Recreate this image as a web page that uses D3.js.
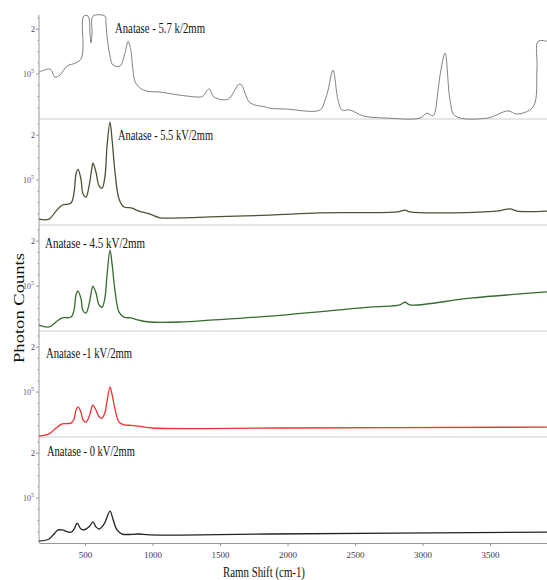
<!DOCTYPE html>
<html>
<head>
<meta charset="utf-8">
<style>
body { margin: 0; background: #fff; }
svg { display: block; }
.lbl { font-family: "Liberation Serif", "DejaVu Serif", serif; fill: #111; }
.tick-y { font-family: "Liberation Serif", serif; font-size: 8px; fill: #445; }
.xaxis text { font-family: "Liberation Serif", serif; font-size: 9px; fill: #435; }
.xaxis path, .xaxis line { stroke: #999; }
</style>
</head>
<body>
<svg width="547" height="580"></svg>
<script src="https://cdn.jsdelivr.net/npm/d3@7"></script>
<script>
// raman spectra, x = shift (cm-1), y = counts in thousands
var xTicks = [500, 1000, 1500, 2000, 2500, 3000, 3500];
var panelLabels = ["Anatase - 5.7 k/2mm", "Anatase - 5.5 kV/2mm", "Anatase - 4.5  kV/2mm",
                   "Anatase -1 kV/2mm", "Anatase - 0 kV/2mm"];

var spec57 = [[159,104],[241,111],[278,93],[315,98],[367,118],[426,124],[463,131],[478,140],
  [485,160],[490,229],[522,229],[537,190],[544,169],[552,190],[559,229],[648,229],[655,215],
  [663,184],[685,140],[707,120],[759,118],[796,147],[819,173],[834,160],[841,150],[856,107],
  [870,84],[907,69],[959,62],[1056,60],[1204,53],[1352,49],[1374,51],[1419,67],
  [1456,49],[1559,44],[1648,78],[1722,36],[1833,27],[1870,24],[1996,22],[2241,20],[2278,42],
  [2300,64],[2337,109],[2374,42],[2404,20],[2463,20],[2559,7],[2737,2],[2981,2],[3033,13],
  [3078,7],[3115,64],[3130,98],[3167,147],[3204,42],[3241,7],[3478,2],[3633,18],[3700,11],
  [3819,27],[3848,113],[3856,173],[3922,173]];
var spec55 = [[159,13],[233,13],[285,31],[330,44],[396,49],[419,73],[433,113],[448,124],
  [470,102],[485,69],[507,62],[530,87],[552,129],[559,138],[581,118],[604,87],[626,82],
  [648,109],[663,176],[685,229],[700,191],[722,118],[752,58],[789,40],[841,38],[900,31],
  [981,24],[1056,16],[1204,16],[1426,18],[1870,22],[2241,27],[2811,29],[2870,33],[2907,29],
  [3550,31],[3648,36],[3700,31],[3922,31]];
var spec45 = [[159,13],[233,9],[285,20],[330,29],[396,31],[419,47],[433,80],[448,89],
  [470,72],[485,45],[507,40],[530,60],[552,95],[559,100],[581,85],[604,58],[626,53],
  [648,75],[663,125],[685,180],[700,150],[722,90],[752,42],[789,31],[841,29],[900,24],
  [981,20],[1204,20],[1426,24],[1870,33],[2611,53],[2833,58],[2870,64],[2907,58],[3352,73],
  [3922,87]];
var spec1 = [[159,2],[233,7],[285,20],[330,29],[396,31],[419,40],[433,60],[448,67],
  [470,55],[485,38],[507,33],[530,45],[552,68],[559,71],[581,60],[604,45],[626,42],
  [648,55],[663,80],[685,111],[700,95],[722,62],[752,33],[789,27],[841,26],[900,24],
  [1004,20],[1944,20],[3922,22]];
var spec0 = [[159,4],[233,9],[270,20],[300,29],[330,29],[396,24],[419,31],[441,44],[470,31],
  [493,29],[530,36],[559,47],[581,36],[604,31],[641,42],[685,71],[707,53],[737,29],[774,20],
  [900,20],[981,18],[1870,20],[3922,24]];

var spectra = [spec57, spec55, spec45, spec1, spec0];
var colors = ["#808080", "#4d5233", "#356b2e", "#ee3030", "#222222"];
var labelPos = [[115, 33, 90], [118, 140, 95], [45, 248, 100], [46, 358, 86], [47, 456, 88]];

var svg = d3.select("svg");
var left = 39, right = 547, top0 = 13, panelH = 106;

var x = d3.scaleLinear().domain([159, 3922]).range([left, right]);

// panel separators
for (var i = 1; i < 5; i++) {
  svg.append("line")
    .attr("x1", left).attr("x2", right)
    .attr("y1", top0 + i * panelH).attr("y2", top0 + i * panelH)
    .attr("stroke", "#e6e6e6").attr("stroke-width", 2);
}

// y axis line
svg.append("line").attr("x1", left).attr("x2", left).attr("y1", 15).attr("y2", top0 + 5 * panelH)
  .attr("stroke", "#999");

spectra.forEach(function(d, i) {
  var t = top0 + i * panelH, b = t + panelH;
  var y = d3.scaleLinear().domain([0, 236]).range([b, t]);

  // minor ticks
  d3.range(25, 236, 25).forEach(function(v) {
    svg.append("line").attr("x1", left - (v % 100 == 0 ? 3 : 1.5)).attr("x2", left)
      .attr("y1", y(v)).attr("y2", y(v)).attr("stroke", "#999");
  });
  svg.append("text").attr("class", "tick-y").attr("x", left - 4).attr("y", y(200) + 3)
    .attr("text-anchor", "end").text("2");
  var tx = svg.append("text").attr("class", "tick-y").attr("x", left - 16).attr("y", y(100) + 3)
    .attr("text-anchor", "start").style("fill", "#557");
  tx.append("tspan").text("10");
  tx.append("tspan").attr("dy", -4).attr("font-size", "6px").text("5");

  var line = d3.line()
    .x(function(p) { return x(p[0]); })
    .y(function(p) { return y(p[1]); })
    .curve(d3.curveCatmullRom.alpha(0.5));

  svg.append("path").datum(d)
    .attr("d", line)
    .attr("fill", "none")
    .attr("stroke", colors[i])
    .attr("stroke-width", i == 0 ? 1 : 1.3);

  var lp = labelPos[i];
  svg.append("text").attr("class", "lbl")
    .attr("x", lp[0]).attr("y", lp[1])
    .attr("font-size", 14)
    .attr("textLength", lp[2]).attr("lengthAdjust", "spacingAndGlyphs")
    .text(panelLabels[i]);
});

// x axis
var xa = svg.append("g").attr("class", "xaxis")
  .attr("transform", "translate(0," + (top0 + 5 * panelH) + ")");
xa.call(d3.axisBottom(x).tickValues(d3.range(200, 3922, 100)).tickSize(2).tickFormat(""));
xa.call(d3.axisBottom(x).tickValues(xTicks).tickSize(3).tickSizeOuter(0).tickPadding(6)
  .tickFormat(d3.format("d")));
xa.selectAll(".domain").attr("stroke", "#999");

svg.append("text").attr("class", "lbl")
  .attr("x", 223).attr("y", 577).attr("font-size", 15)
  .attr("textLength", 82).attr("lengthAdjust", "spacingAndGlyphs")
  .text("Ramn Shift (cm-1)");

svg.append("text").attr("class", "lbl")
  .attr("transform", "translate(24,363) rotate(-90)")
  .attr("font-size", 15)
  .attr("textLength", 110).attr("lengthAdjust", "spacingAndGlyphs")
  .text("Photon Counts");
</script>
</body>
</html>
